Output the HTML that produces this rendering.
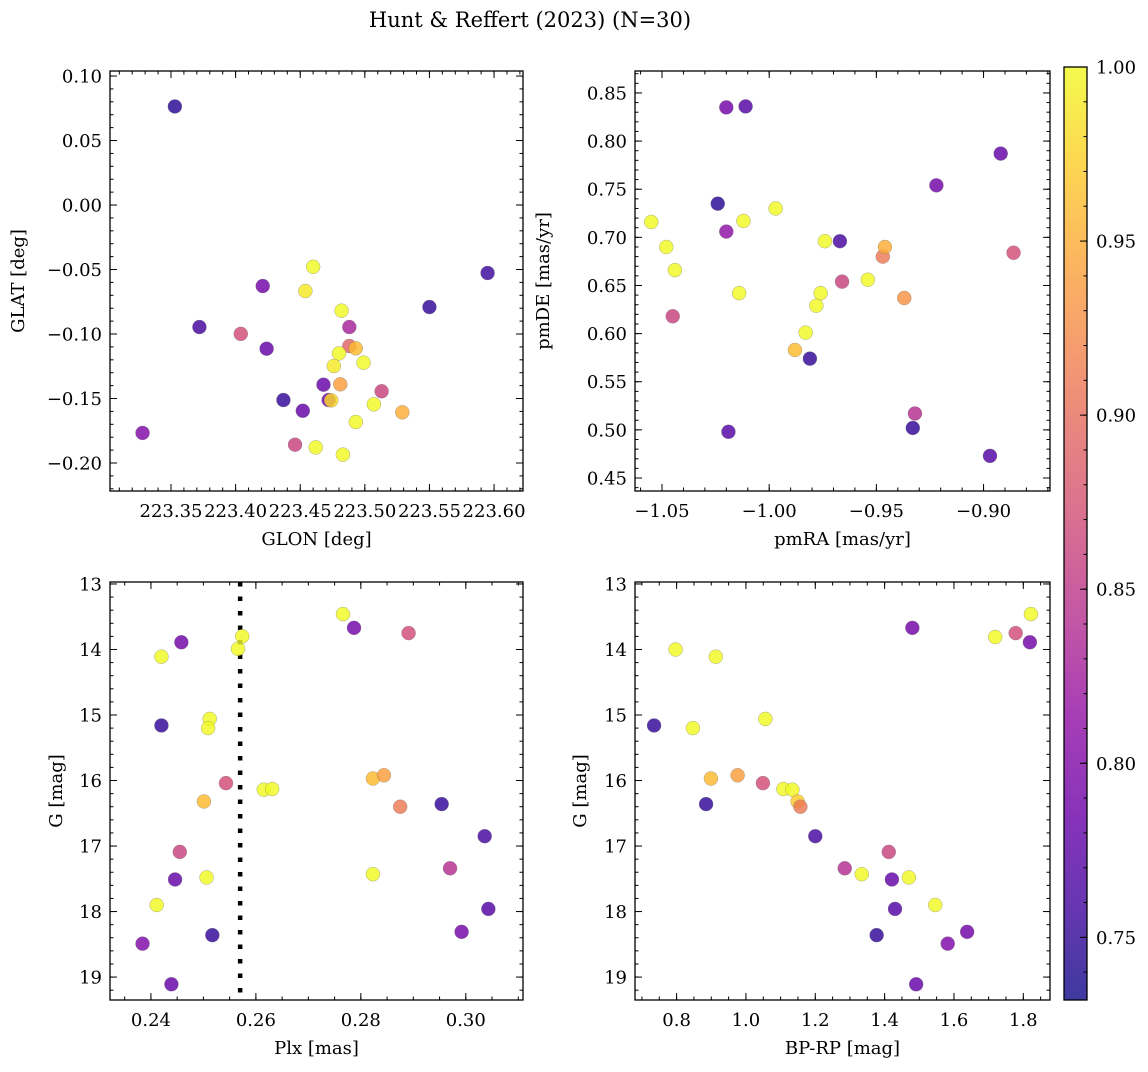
<!DOCTYPE html>
<html><head><meta charset="utf-8">
<style>
html,body{margin:0;padding:0;background:#fff;}
svg text{font-family:"DejaVu Serif","Liberation Serif",serif;fill:#000;}
</style></head>
<body>
<svg id="fig" width="1148" height="1067" viewBox="0 0 1148 1067" xmlns="http://www.w3.org/2000/svg">
<defs>
<linearGradient id="plasma" x1="0" y1="1" x2="0" y2="0">
<stop offset="0" stop-color="#0d0887"/><stop offset="0.1" stop-color="#41049d"/><stop offset="0.2" stop-color="#6a00a8"/><stop offset="0.3" stop-color="#8f0da4"/><stop offset="0.4" stop-color="#b12a90"/><stop offset="0.5" stop-color="#cc4778"/><stop offset="0.6" stop-color="#e16462"/><stop offset="0.7" stop-color="#f2844b"/><stop offset="0.8" stop-color="#fca636"/><stop offset="0.9" stop-color="#fcce25"/><stop offset="1" stop-color="#f0f921"/>
</linearGradient>
</defs>
<text x="530" y="27" font-size="21" text-anchor="middle">Hunt &amp; Reffert (2023) (N=30)</text>
</svg>
<script>
// ---- data ----
const tlX=[223.353,223.372,223.328,223.595,223.460,223.421,223.454,223.482,223.488,223.404,223.424,223.488,223.493,223.480,223.499,223.476,223.468,223.481,223.513,223.437,223.472,223.474,223.452,223.507,223.529,223.493,223.446,223.462,223.483,223.550];
const tlY=[0.0764,-0.0946,-0.1767,-0.0527,-0.0479,-0.0628,-0.0667,-0.0819,-0.0946,-0.0999,-0.1114,-0.1093,-0.1111,-0.1150,-0.1222,-0.1248,-0.1393,-0.1390,-0.1444,-0.1512,-0.1512,-0.1514,-0.1595,-0.1545,-0.1607,-0.1682,-0.1858,-0.1879,-0.1935,-0.0791];
const tlC=[0.745,0.76,0.80,0.755,1.0,0.79,0.99,1.0,0.83,0.87,0.78,0.89,0.96,1.0,1.0,0.99,0.78,0.94,0.86,0.75,0.79,0.98,0.78,1.0,0.95,1.0,0.86,1.0,1.0,0.75];

const trX=[-1.055,-1.048,-1.045,-1.044,-1.024,-1.020,-1.020,-1.011,-1.019,-1.014,-1.012,-0.997,-0.988,-0.983,-0.981,-0.978,-0.976,-0.974,-0.967,-0.966,-0.954,-0.947,-0.946,-0.937,-0.932,-0.933,-0.922,-0.892,-0.897,-0.886];
const trY=[0.716,0.690,0.618,0.666,0.735,0.835,0.706,0.836,0.498,0.642,0.717,0.730,0.583,0.601,0.574,0.629,0.642,0.696,0.696,0.654,0.656,0.680,0.690,0.637,0.517,0.502,0.754,0.787,0.473,0.684];
const trC=[1.0,1.0,0.86,1.0,0.745,0.79,0.81,0.77,0.77,1.0,1.0,1.0,0.96,1.0,0.75,1.0,1.0,1.0,0.76,0.86,1.0,0.91,0.95,0.93,0.84,0.75,0.79,0.78,0.77,0.87];

const blX=[0.2458,0.2420,0.2574,0.2566,0.2420,0.2512,0.2509,0.2543,0.2501,0.2615,0.2631,0.2455,0.2446,0.2506,0.2411,0.2517,0.2384,0.2439,0.2766,0.2787,0.2891,0.2823,0.2844,0.2875,0.2954,0.3036,0.2823,0.2970,0.3043,0.2992];
const blY=[13.89,14.11,13.80,13.99,15.16,15.06,15.20,16.04,16.32,16.14,16.13,17.09,17.51,17.48,17.90,18.36,18.49,19.11,13.46,13.67,13.75,15.97,15.92,16.40,16.36,16.85,17.43,17.34,17.96,18.31];
const blC=[0.79,1.0,1.0,1.0,0.75,1.0,1.0,0.87,0.96,1.0,1.0,0.86,0.78,1.0,1.0,0.75,0.80,0.78,1.0,0.79,0.87,0.96,0.94,0.91,0.75,0.76,1.0,0.84,0.77,0.79];

const brX=[0.797,0.913,0.735,0.847,1.056,0.899,0.976,1.049,1.108,1.134,1.149,1.157,0.885,1.200,1.285,1.334,1.412,1.421,1.470,1.430,1.377,1.546,1.638,1.582,1.491,1.480,1.719,1.778,1.822,1.819];
const brY=[14.00,14.11,15.16,15.20,15.06,15.97,15.92,16.04,16.13,16.14,16.32,16.40,16.36,16.85,17.34,17.43,17.09,17.51,17.48,17.96,18.36,17.90,18.31,18.49,19.11,13.67,13.81,13.75,13.46,13.89];
const brC=[1.0,1.0,0.75,1.0,1.0,0.96,0.94,0.87,1.0,1.0,0.97,0.91,0.75,0.76,0.84,1.0,0.86,0.78,1.0,0.77,0.75,1.0,0.79,0.80,0.78,0.79,1.0,0.87,1.0,0.79];

const tlXTicks=[223.35,223.40,223.45,223.50,223.55,223.60];
const tlYTicks=[0.10,0.05,0.00,-0.05,-0.10,-0.15,-0.20];
const trXTicks=[-1.05,-1.00,-0.95,-0.90];
const trYTicks=[0.85,0.80,0.75,0.70,0.65,0.60,0.55,0.50,0.45];
const magTicks=[13,14,15,16,17,18,19];
const blXTicks=[0.24,0.26,0.28,0.30];
const brXTicks=[0.8,1.0,1.2,1.4,1.6,1.8];
const cbTicks=[0.75,0.80,0.85,0.90,0.95,1.00];
const plxCut=0.2570;
const cMin=0.732, cMax=1.0;

// ---- helpers ----
const NS="http://www.w3.org/2000/svg";
const svg=document.getElementById('fig');
function mk(tag,attrs,parent){const e=document.createElementNS(NS,tag);for(const k in attrs)e.setAttribute(k,attrs[k]);(parent||svg).appendChild(e);return e;}
const stops=[[13,8,135],[65,4,157],[106,0,168],[143,13,164],[177,42,144],[204,71,120],[225,100,98],[242,132,75],[252,166,54],[252,206,37],[240,249,33]];
function plasma(v){let t=(v-cMin)/(cMax-cMin);t=Math.max(0,Math.min(1,t));const f=t*10;const i=Math.min(9,Math.floor(f));const r=f-i;const a=stops[i],b=stops[i+1];return 'rgb('+[0,1,2].map(k=>Math.round(a[k]+(b[k]-a[k])*r)).join(',')+')';}

function panel(cfg){
  const g=mk('g',{});
  
  
  const {L,T,R,B,x0,x1,y0,y1}=cfg;
  const sx=v=>L+(v-x0)/(x1-x0)*(R-L);
  const sy=v=>B-(v-y0)/(y1-y0)*(B-T);
  const tk=mk('g',{stroke:'#000','stroke-width':1},g);
  
  
  const eps=1e-9;
  function range(a,b,s){const out=[];let st=Math.ceil((Math.min(a,b))/s-eps);for(let k=st;k*s<=Math.max(a,b)+eps;k++)out.push(k*s);return out;}
  range(x0,x1,cfg.xMinor).forEach(v=>{const x=sx(v);mk('line',{x1:x,x2:x,y1:B,y2:B-3.5},tk);mk('line',{x1:x,x2:x,y1:T,y2:T+3.5},tk);});
  range(y0,y1,cfg.yMinor).forEach(v=>{const y=sy(v);mk('line',{x1:L,x2:L+3.5,y1:y,y2:y},tk);mk('line',{x1:R,x2:R-3.5,y1:y,y2:y},tk);});
  cfg.xTicks.forEach(v=>{const x=sx(v);mk('line',{x1:x,x2:x,y1:B,y2:B-7},tk);mk('line',{x1:x,x2:x,y1:T,y2:T+7},tk);
    const t=mk('text',{x:x,y:B+26,'font-size':18,'text-anchor':'middle'},g);t.textContent=cfg.xFmt(v);
    
    });
  cfg.yTicks.forEach(v=>{const y=sy(v);mk('line',{x1:L,x2:L+7,y1:y,y2:y},tk);mk('line',{x1:R,x2:R-7,y1:y,y2:y},tk);
    const t=mk('text',{x:L-8,y:y+6.5,'font-size':18,'text-anchor':'end'},g);t.textContent=cfg.yFmt(v);
    
    });
  if(cfg.extra)cfg.extra(g,sx,sy);
  const pts=mk('g',{},g);
  
  
  cfg.xs.forEach((xv,i)=>{const c=mk('circle',{cx:sx(xv),cy:sy(cfg.ys[i]),r:7,fill:plasma(cfg.cs[i]),'fill-opacity':0.82,stroke:'#777','stroke-opacity':0.6,'stroke-width':0.5},pts);
    
    });
  const fr=mk('rect',{x:L,y:T,width:R-L,height:B-T,fill:'none',stroke:'#000','stroke-width':1.3},g);
  
  
  const xl=mk('text',{x:(L+R)/2,y:B+54,'font-size':18,'text-anchor':'middle'},g);xl.textContent=cfg.xLabel;
  
  
  const yl=mk('text',{x:0,y:0,'font-size':18,'text-anchor':'middle',transform:'translate('+cfg.yLabX+','+((T+B)/2)+') rotate(-90)'},g);yl.textContent=cfg.yLabel;
  
  
}
const f2=v=>(v<0?'\u2212':'')+Math.abs(v).toFixed(2);
const f1=v=>v.toFixed(1);

panel({name:'glon-glat-panel',L:110,T:71,R:523,B:491,x0:223.3028,x1:223.6224,y0:-0.2217,y1:0.1039,xMinor:0.01,yMinor:0.01,
  xTicks:tlXTicks,yTicks:tlYTicks,xFmt:v=>v.toFixed(2),yFmt:f2,xs:tlX,ys:tlY,cs:tlC,xLabel:'GLON [deg]',yLabel:'GLAT [deg]',yLabX:24});
panel({name:'pm-panel',L:635,T:71,R:1050,B:491,x0:-1.0626,x1:-0.869,y0:0.4365,y1:0.8728,xMinor:0.01,yMinor:0.01,
  xTicks:trXTicks,yTicks:trYTicks,xFmt:f2,yFmt:f2,xs:trX,ys:trY,cs:trC,xLabel:'pmRA [mas/yr]',yLabel:'pmDE [mas/yr]',yLabX:549});
panel({name:'plx-g-panel',L:110,T:582,R:523,B:1000,x0:0.2322,x1:0.3109,y0:19.35,y1:12.97,xMinor:0.005,yMinor:0.2,
  xTicks:blXTicks,yTicks:magTicks,xFmt:v=>v.toFixed(2),yFmt:v=>String(v),xs:blX,ys:blY,cs:blC,xLabel:'Plx [mas]',yLabel:'G [mag]',yLabX:62,
  extra:(g,sx,sy)=>{const l=mk('line',{x1:sx(plxCut),x2:sx(plxCut),y1:582,y2:1000,stroke:'#000','stroke-width':4.5,'stroke-dasharray':'4.5 10'},g);
    
    }});
panel({name:'cmd-panel',L:635,T:582,R:1050,B:1000,x0:0.680,x1:1.877,y0:19.35,y1:12.97,xMinor:0.05,yMinor:0.2,
  xTicks:brXTicks,yTicks:magTicks,xFmt:f1,yFmt:v=>String(v),xs:brX,ys:brY,cs:brC,xLabel:'BP-RP [mag]',yLabel:'G [mag]',yLabX:586});

// colorbar
const cb=mk('g',{});


const cT=67,cB=1000,cL=1064,cR=1087;
const cy=v=>cB-(v-cMin)/(cMax-cMin)*(cB-cT);
mk('rect',{x:cL,y:cT,width:cR-cL,height:cB-cT,fill:'url(#plasma)','fill-opacity':0.8},cb);
for(let k=74;k<=100;k++){const y=cy(k/100);mk('line',{x1:cR,x2:cR-3.5,y1:y,y2:y,stroke:'#000','stroke-width':1},cb);}
cbTicks.forEach(v=>{const y=cy(v);mk('line',{x1:cR,x2:cR-7,y1:y,y2:y,stroke:'#000','stroke-width':1},cb);
  const t=mk('text',{x:cR+9,y:y+6.5,'font-size':18},cb);t.textContent=v.toFixed(2);
  
  });
mk('rect',{x:cL,y:cT,width:cR-cL,height:cB-cT,fill:'none',stroke:'#000','stroke-width':1.3},cb);
</script>
</body></html>
